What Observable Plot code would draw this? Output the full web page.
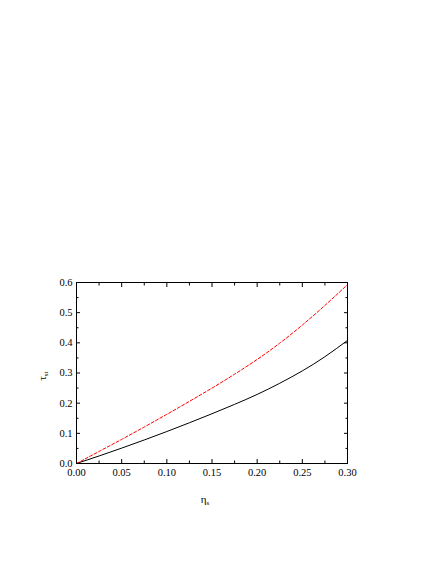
<!DOCTYPE html>
<html>
<head>
<meta charset="utf-8">
<script src="https://cdn.jsdelivr.net/npm/d3@7"></script>
<script src="https://cdn.jsdelivr.net/npm/@observablehq/plot@0.6"></script>
<style>
body { margin: 0; background: #fff; }
svg { display: block; }
svg text, svg g[aria-label] { font-family: "Liberation Serif", "Times New Roman", serif !important; }
</style>
</head>
<body>
<div id="chart"></div>
<script>
const etaS = [0, 0.025, 0.05, 0.075, 0.1, 0.125, 0.15, 0.175, 0.2, 0.225, 0.25, 0.275, 0.3];
const tauSolid = [0, 0.025, 0.051, 0.078, 0.106, 0.135, 0.165, 0.196, 0.229, 0.266, 0.307, 0.354, 0.408];
const tauDashed = [0, 0.040, 0.080, 0.121, 0.163, 0.206, 0.250, 0.296, 0.345, 0.399, 0.459, 0.524, 0.593];
const xTicks = [0, 0.05, 0.1, 0.15, 0.2, 0.25, 0.3];
const xMinor = [0.025, 0.075, 0.125, 0.175, 0.225, 0.275];
const yTicks = [0, 0.1, 0.2, 0.3, 0.4, 0.5, 0.6];
const yMinor = [0.05, 0.15, 0.25, 0.35, 0.45, 0.55];

const solid = etaS.map((x, i) => ({x, y: tauSolid[i]}));
const dashed = etaS.map((x, i) => ({x, y: tauDashed[i]}));

const serif = "Liberation Serif, Times New Roman, serif";
const blank = () => "";
const chart = Plot.plot({
  width: 436,
  height: 564,
  marginLeft: 76,
  marginRight: 89,
  marginTop: 282,
  marginBottom: 101,
  style: {fontFamily: serif, fontSize: "10.5px", color: "#000", background: "#fff"},
  x: {domain: [0, 0.3]},
  y: {domain: [0, 0.6]},
  marks: [
    Plot.line(solid, {x: "x", y: "y", stroke: "#000", strokeWidth: 1, curve: "natural"}),
    Plot.line(dashed, {x: "x", y: "y", stroke: "#ff0000", strokeWidth: 1, strokeDasharray: "3,2", curve: "natural"}),
    Plot.frame({stroke: "#000", strokeWidth: 1}),
    Plot.axisX({anchor: "bottom", ticks: xTicks, tickSize: 0, tickPadding: 5, tickFormat: d3.format(".2f"), label: null, fontSize: 10.5, fontFamily: serif}),
    Plot.axisX({anchor: "bottom", ticks: xTicks, tickSize: -4, tickFormat: blank, label: null}),
    Plot.axisX({anchor: "bottom", ticks: xMinor, tickSize: -2.5, tickFormat: blank, label: null}),
    Plot.axisX({anchor: "top", ticks: xTicks, tickSize: -4, tickFormat: blank, label: null}),
    Plot.axisX({anchor: "top", ticks: xMinor, tickSize: -2.5, tickFormat: blank, label: null}),
    Plot.axisY({anchor: "left", ticks: yTicks, tickSize: 0, tickPadding: 4, tickFormat: d3.format(".1f"), label: null, fontSize: 10.5, fontFamily: serif}),
    Plot.axisY({anchor: "left", ticks: yTicks, tickSize: -4, tickFormat: blank, label: null}),
    Plot.axisY({anchor: "left", ticks: yMinor, tickSize: -2.5, tickFormat: blank, label: null}),
    Plot.axisY({anchor: "right", ticks: yTicks, tickSize: -4, tickFormat: blank, label: null}),
    Plot.axisY({anchor: "right", ticks: yMinor, tickSize: -2.5, tickFormat: blank, label: null})
  ]
});
document.getElementById("chart").appendChild(chart);

const svg = d3.select(chart);
const xl = svg.append("text")
  .attr("x", 205).attr("y", 503)
  .attr("text-anchor", "middle")
  .attr("font-family", serif).attr("font-size", 11).attr("fill", "#000");
xl.append("tspan").text("η");
xl.append("tspan").attr("dy", 2).attr("font-size", 7).text("s");

const yl = svg.append("text")
  .attr("transform", "translate(46,376) rotate(-90)")
  .attr("text-anchor", "middle")
  .attr("font-family", serif).attr("font-size", 11).attr("fill", "#000");
yl.append("tspan").text("τ");
yl.append("tspan").attr("dy", 2).attr("font-size", 7).text("st");
</script>
</body>
</html>
